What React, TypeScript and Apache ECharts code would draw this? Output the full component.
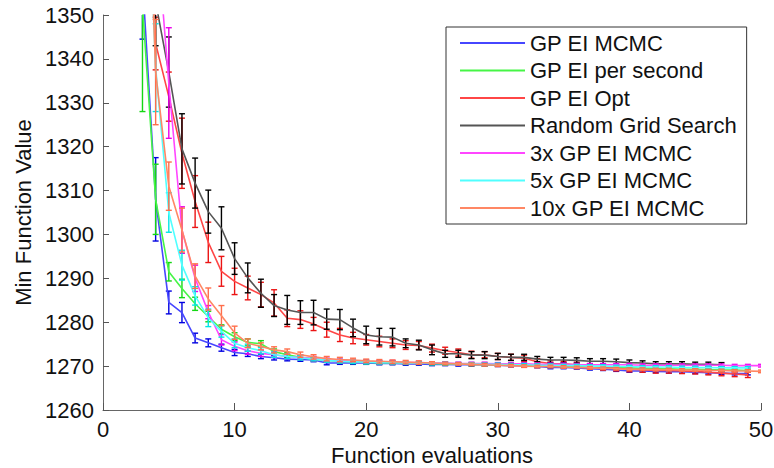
import React, { useEffect, useRef } from "react";
import * as echarts from "echarts";

// x = 1..50 (index 0 is x = 1)
const seriesNames = [
  "GP EI MCMC",
  "GP EI per second",
  "GP EI Opt",
  "Random Grid Search",
  "3x GP EI MCMC",
  "5x GP EI MCMC",
  "10x GP EI MCMC",
];

const gpEiMcmc = [
  null, null, 1358, 1308, 1284.5, 1282.2, 1276.4, 1275.3, 1274.2, 1273.1,
  1272.8, 1272.2, 1271.9, 1271.6, 1271.5, 1271.4, 1270.7, 1270.7, 1270.7, 1270.7,
  1270.6, 1270.6, 1270.5, 1270.5, 1270.4, 1270.4, 1270.3, 1270.3, 1270.3, 1270.2,
  1270.1, 1270.1, 1269.9, 1269.7, 1269.7, 1269.6, 1269.4, 1269.3, 1269.1, 1268.9,
  1268.9, 1268.8, 1268.7, 1268.7, 1268.6, 1268.5, 1268.4, 1268.3, 1268.3, null,
];
const gpEiMcmcErr = [
  null, null, 13.5, 9.5, 2.6, 2.3, 1.1, 0.9, 0.8, 0.7,
  0.6, 0.5, 0.5, 0.4, 0.4, 0.4, 0.4, 0.3, 0.3, 0.3,
  0.3, 0.3, 0.3, 0.3, 0.3, 0.3, 0.3, 0.3, 0.3, 0.3,
  0.3, 0.3, 0.3, 0.3, 0.3, 0.3, 0.3, 0.3, 0.3, 0.3,
  0.3, 0.3, 0.3, 0.3, 0.3, 0.3, 0.3, 0.3, 0.3, null,
];

const gpEiPerSecond = [
  null, null, 1352, 1308, 1291.5, 1287.7, 1284.2, 1281.3, 1278.4, 1276.7,
  1275.4, 1275.1, 1273.3, 1272.6, 1272.0, 1271.6, 1271.3, 1271.1, 1271.0, 1270.9,
  1270.8, 1270.8, 1270.7, 1270.7, 1270.6, 1270.5, 1270.5, 1270.4, 1270.4, 1270.3,
  1270.3, 1270.2, 1270.2, 1270.1, 1270.0, 1270.0, 1269.9, 1269.8, 1269.7, 1269.6,
  1269.5, 1269.5, 1269.4, 1269.3, 1269.3, 1269.2, 1269.1, 1269.1, 1269.0, null,
];
const gpEiPerSecondErr = [
  null, null, 24, 8, 2.1, 2.1, 1.5, 1.2, 1.0, 0.9,
  0.8, 0.7, 0.6, 0.5, 0.5, 0.4, 0.4, 0.4, 0.4, 0.4,
  0.4, 0.4, 0.3, 0.3, 0.3, 0.3, 0.3, 0.3, 0.3, 0.3,
  0.3, 0.3, 0.3, 0.3, 0.3, 0.3, 0.3, 0.3, 0.3, 0.3,
  0.3, 0.3, 0.3, 0.3, 0.3, 0.3, 0.3, 0.3, 0.3, null,
];

const gpEiOpt = [
  null, null, 1470, 1343.5, 1331.4, 1318.5, 1307.5, 1298.2, 1291.6, 1289.3,
  1287.8, 1286.3, 1284.4, 1280.9, 1280.6, 1279.6, 1278.3, 1277.1, 1276.4, 1276.0,
  1275.6, 1275.2, 1274.8, 1274.7, 1274.1, 1273.5, 1273.1, 1272.6, 1272.6, 1272.2,
  1272.0, 1271.8, 1271.0, 1270.6, 1270.5, 1270.3, 1269.9, 1269.7, 1269.5, 1269.3,
  1269.2, 1269.0, 1269.0, 1268.9, 1268.8, 1268.6, 1268.4, 1268.2, 1268.0, null,
];
const gpEiOptErr = [
  null, null, 30, 6, 5.6, 8, 5.9, 4.6, 3.4, 3.0,
  2.7, 2.8, 3.0, 1.9, 2.0, 1.5, 1.7, 1.5, 1.3, 1.2,
  1.2, 1.0, 1.0, 0.9, 0.9, 0.8, 0.8, 0.8, 0.7, 0.7,
  0.7, 0.7, 0.7, 0.6, 0.6, 0.6, 0.6, 0.6, 0.6, 0.6,
  0.6, 0.6, 0.6, 0.6, 0.6, 0.6, 0.6, 0.6, 0.6, null,
];

const randomGridSearch = [
  null, null, 1400, 1353, 1337, 1319.5, 1311.7, 1305.2, 1301.4, 1294.5,
  1290.1, 1286.6, 1283.8, 1282.8, 1282.2, 1282.2, 1280.7, 1280.6, 1278.7, 1277.1,
  1276.7, 1276.6, 1275.2, 1274.8, 1273.7, 1272.8, 1272.8, 1272.5, 1272.5, 1272.2,
  1272.0, 1272.0, 1271.6, 1271.4, 1271.4, 1271.3, 1271.1, 1271.1, 1271.0, 1270.8,
  1270.7, 1270.5, 1270.5, 1270.5, 1270.4, 1270.4, 1270.3, null, null, null,
];
const randomGridSearchErr = [
  null, null, 20, 10, 8, 8, 5.7, 4.9, 4.9, 3.6,
  3.4, 3.2, 2.5, 3.3, 2.7, 2.8, 2.3, 2.3, 2.0, 2.0,
  1.9, 2.0, 1.0, 1.1, 1.1, 0.8, 0.8, 0.8, 0.8, 0.7,
  0.7, 0.7, 0.6, 0.6, 0.6, 0.6, 0.6, 0.6, 0.6, 0.6,
  0.5, 0.5, 0.5, 0.5, 0.5, 0.5, 0.5, null, null, null,
];

const gpEiMcmc3x = [
  null, null, null, 1372, 1334.5, 1301, 1290, 1282.3, 1276, 1274.5,
  1273.5, 1272.9, 1272.6, 1272.2, 1272.0, 1271.7, 1271.4, 1271.2, 1271.1, 1271.0,
  1270.9, 1270.9, 1270.8, 1270.8, 1270.7, 1270.7, 1270.6, 1270.6, 1270.6, 1270.5,
  1270.5, 1270.5, 1270.4, 1270.4, 1270.4, 1270.3, 1270.3, 1270.3, 1270.3, 1270.3,
  1270.2, 1270.2, 1270.2, 1270.2, 1270.2, 1270.2, 1270.2, 1270.1, 1270.1, 1270.1,
];
const gpEiMcmc3xErr = [
  null, null, null, 15, 12.6, 5.3, 3.0, 1.5, 1.2, 1.0,
  0.8, 0.7, 0.6, 0.5, 0.5, 0.5, 0.4, 0.4, 0.4, 0.4,
  0.4, 0.4, 0.3, 0.3, 0.3, 0.3, 0.3, 0.3, 0.3, 0.3,
  0.3, 0.3, 0.3, 0.3, 0.3, 0.3, 0.3, 0.3, 0.3, 0.3,
  0.3, 0.3, 0.3, 0.3, 0.3, 0.3, 0.3, 0.3, 0.3, 0.3,
];

const gpEiMcmc5x = [
  null, null, 1411, 1338, 1305, 1293, 1286, 1281, 1277.9, 1275.2,
  1274.2, 1273.5, 1272.6, 1272.2, 1271.9, 1271.6, 1271.3, 1271.1, 1271.0, 1270.9,
  1270.8, 1270.8, 1270.7, 1270.7, 1270.6, 1270.6, 1270.5, 1270.5, 1270.4, 1270.4,
  1270.3, 1270.3, 1270.2, 1270.2, 1270.1, 1270.1, 1270.0, 1270.0, 1269.9, 1269.9,
  1269.8, 1269.8, 1269.8, 1269.7, 1269.7, 1269.7, 1269.6, 1269.6, 1269.6, null,
];
const gpEiMcmc5xErr = [
  null, null, 25, 10, 4.5, 3.4, 2.1, 2.0, 1.3, 1.0,
  0.8, 0.7, 0.6, 0.5, 0.5, 0.4, 0.4, 0.4, 0.4, 0.4,
  0.3, 0.3, 0.3, 0.3, 0.3, 0.3, 0.3, 0.3, 0.3, 0.3,
  0.3, 0.3, 0.3, 0.3, 0.3, 0.3, 0.3, 0.3, 0.3, 0.3,
  0.3, 0.3, 0.3, 0.3, 0.3, 0.3, 0.3, 0.3, 0.3, null,
];

const gpEiMcmc10x = [
  null, null, 1420, 1337, 1311, 1301, 1290.5, 1285.3, 1281.5, 1277.6,
  1275.2, 1274.5, 1273.7, 1273.3, 1272.6, 1272.1, 1271.7, 1271.5, 1271.4, 1271.2,
  1271.1, 1271.0, 1270.9, 1270.8, 1270.7, 1270.6, 1270.5, 1270.4, 1270.3, 1270.2,
  1270.1, 1270.0, 1269.9, 1269.9, 1269.8, 1269.7, 1269.6, 1269.5, 1269.4, 1269.3,
  1269.3, 1269.2, 1269.2, 1269.1, 1269.1, 1269.0, 1269.0, 1268.9, 1268.9, 1268.8,
];
const gpEiMcmc10xErr = [
  null, null, 25, 12, 5.5, 5.0, 2.8, 2.5, 2.3, 1.5,
  1.0, 0.8, 0.7, 0.6, 0.6, 0.5, 0.5, 0.5, 0.4, 0.4,
  0.4, 0.4, 0.4, 0.4, 0.3, 0.3, 0.3, 0.3, 0.3, 0.3,
  0.3, 0.3, 0.3, 0.3, 0.3, 0.3, 0.3, 0.3, 0.3, 0.3,
  0.3, 0.3, 0.3, 0.3, 0.3, 0.3, 0.3, 0.3, 0.3, 0.3,
];

const xTicks = { min: 0, max: 50, interval: 10 };
const yTicks = { min: 1260, max: 1350, interval: 10 };

const lineColors = [
  "rgb(70,70,255)",
  "rgb(70,245,70)",
  "rgb(255,70,70)",
  "rgb(85,85,85)",
  "rgb(255,70,255)",
  "rgb(80,255,255)",
  "rgb(255,135,100)",
];
const barColors = [
  "rgb(0,0,225)",
  "rgb(20,215,20)",
  "rgb(235,20,20)",
  "rgb(0,0,0)",
  "rgb(235,0,235)",
  "rgb(0,230,230)",
  "rgb(255,110,75)",
];

const allValues = [gpEiMcmc, gpEiPerSecond, gpEiOpt, randomGridSearch, gpEiMcmc3x, gpEiMcmc5x, gpEiMcmc10x];
const allErrors = [gpEiMcmcErr, gpEiPerSecondErr, gpEiOptErr, randomGridSearchErr, gpEiMcmc3xErr, gpEiMcmc5xErr, gpEiMcmc10xErr];

const FONT = "'Liberation Sans', Arial, Helvetica, sans-serif";

export default function App() {
  const ref = useRef<HTMLDivElement>(null);
  useEffect(() => {
    if (!ref.current) return;
    const chart = echarts.init(ref.current, null, { renderer: "svg" });

    const series: any[] = [];
    allValues.forEach((vals, si) => {
      const lineData = vals.map((v, i) => [i + 1, v]);
      series.push({
        name: seriesNames[si],
        type: "line",
        data: lineData,
        showSymbol: false,
        symbol: "none",
        clip: true,
        connectNulls: false,
        color: lineColors[si],
        lineStyle: { width: 1.6, color: lineColors[si] },
        itemStyle: { color: lineColors[si] },
        z: 2 + si,
        silent: true,
      });
      const errs = allErrors[si];
      const ebData: any[] = [];
      vals.forEach((v, i) => {
        const e = errs[i];
        if (v != null && e != null) ebData.push([i + 1, v - e, v + e]);
      });
      const col = barColors[si];
      series.push({
        name: "eb" + si,
        type: "custom",
        data: ebData,
        clip: true,
        encode: { x: 0, y: [1, 2] },
        z: 2 + si,
        silent: true,
        renderItem: (params: any, api: any) => {
          const x = api.value(0);
          const lo = api.value(1);
          const hi = api.value(2);
          const p1 = api.coord([x, lo]);
          const p2 = api.coord([x, hi]);
          const w = 3;
          const style = { stroke: col, lineWidth: 1.4 };
          return {
            type: "group",
            children: [
              { type: "line", shape: { x1: p1[0], y1: p1[1], x2: p2[0], y2: p2[1] }, style },
              { type: "line", shape: { x1: p1[0] - w, y1: p1[1], x2: p1[0] + w, y2: p1[1] }, style },
              { type: "line", shape: { x1: p2[0] - w, y1: p2[1], x2: p2[0] + w, y2: p2[1] }, style },
            ],
          };
        },
      });
    });

    chart.setOption({
      animation: false,
      backgroundColor: "#fff",
      textStyle: { fontFamily: FONT },
      grid: { left: 103, right: 13, top: 15, bottom: 58, containLabel: false, outerBoundsMode: "none" },
      legend: {
        data: seriesNames,
        orient: "vertical",
        left: 446,
        top: 27,
        padding: [5, 10, 5, 14],
        itemWidth: 65,
        itemHeight: 2,
        itemGap: 5.5,
        icon: "rect",
        borderColor: "#333",
        borderWidth: 1,
        backgroundColor: "#fff",
        selectedMode: false,
        textStyle: { fontSize: 22, color: "#111", fontFamily: FONT, lineHeight: 22 },
      },
      xAxis: {
        type: "value",
        min: xTicks.min,
        max: xTicks.max,
        interval: xTicks.interval,
        name: "Function evaluations",
        nameLocation: "middle",
        nameGap: 33,
        nameTextStyle: { fontSize: 22, color: "#111", fontFamily: FONT, lineHeight: 22 },
        axisLine: { show: true, lineStyle: { color: "#666", width: 1 } },
        axisTick: { show: true, inside: true, length: 7, lineStyle: { color: "#555" } },
        axisLabel: { fontSize: 22, color: "#111", margin: 8, fontFamily: FONT },
        splitLine: { show: false },
      },
      yAxis: {
        type: "value",
        min: yTicks.min,
        max: yTicks.max,
        interval: yTicks.interval,
        name: "Min Function Value",
        nameLocation: "middle",
        nameGap: 66,
        nameTextStyle: { fontSize: 22, color: "#111", fontFamily: FONT },
        axisLine: { show: true, lineStyle: { color: "#666", width: 1 } },
        axisTick: { show: true, inside: true, length: 6, lineStyle: { color: "#555" } },
        axisLabel: {
          fontSize: 22,
          color: "#111",
          margin: 9,
          fontFamily: FONT,
          formatter: (v: number) => String(v),
        },
        splitLine: { show: false },
      },
      series,
    });

    return () => chart.dispose();
  }, []);

  return (
    <div
      ref={ref}
      style={{ position: "fixed", left: 0, top: 0, width: 774, height: 468, background: "#fff" }}
    />
  );
}
